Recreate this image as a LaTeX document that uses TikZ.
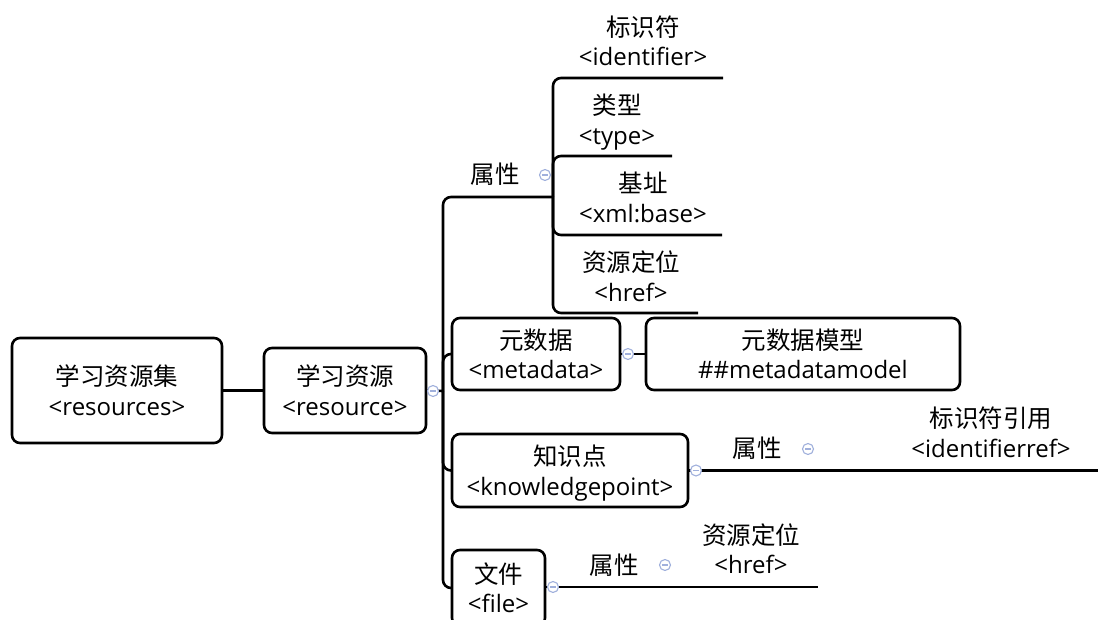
\documentclass[tikz,border=0pt]{standalone}
\usepackage{fontspec}
\setmainfont{Open Sans}
\newfontfamily\cjk{Noto Sans CJK SC}
\definecolor{clp}{RGB}{160,176,220}
\newcommand\zh[1]{{\cjk\fontsize{24.5}{32}\selectfont #1}}
\newcommand\twol[2]{\begin{tabular}{@{}c@{}}\rule{0pt}{27.4pt}\raisebox{-2.5pt}{\zh{#1}}\\#2\end{tabular}}
\begin{document}
\begin{tikzpicture}[x=1pt,y=-1pt,font=\fontsize{24}{32}\selectfont,
  box/.style={draw,line width=2.6pt,rounded corners=8pt,inner sep=0pt},
  lnk/.style={line width=2.6pt,rounded corners=8pt},
  tp/.style={inner sep=0pt},
  clps/.style={circle,draw=clp,fill=white,line width=1.1pt,minimum size=11pt,inner sep=0pt,
    path picture={\draw[clp,line width=1.1pt]
      ([xshift=-3pt]path picture bounding box.center) -- ([xshift=3pt]path picture bounding box.center);}}]
\useasboundingbox (0,0) rectangle (1098,620);

% boxes
\node[box,minimum width=210pt,minimum height=105pt] (r0) at (117,390.5) {\twol{学习资源集}{<resources>}};
\node[box,minimum width=162pt,minimum height=85pt] (r1) at (345,390.5) {\twol{学习资源}{<resource>}};
\node[box,minimum width=168pt,minimum height=72pt] (md) at (536,354) {\twol{元数据}{<metadata>}};
\node[box,minimum width=314pt,minimum height=72pt] (mm) at (803,354) {\twol{元数据模型}{\#\#metadatamodel}};
\node[box,minimum width=236pt,minimum height=73pt] (kp) at (570,470.5) {\twol{知识点}{<knowledgepoint>}};
\node[box,minimum width=93pt,minimum height=76pt] (fl) at (498.5,588) {\twol{文件}{<file>}};

% underline topics
\node[tp] (a1) at (495,174) {\zh{属性}};
\node[tp] (id) at (643,41) {\twol{标识符}{<identifier>}};
\node[tp] (ty) at (617,119.5) {\twol{类型}{<type>}};
\node[tp] (xb) at (643,197.5) {\twol{基址}{<xml:base>}};
\node[tp] (hr) at (631,276.5) {\twol{资源定位}{<href>}};
\node[tp] (ka) at (757,448) {\zh{属性}};
\node[tp] (ir) at (991,432.5) {\twol{标识符引用}{<identifierref>}};
\node[tp] (fa) at (614,565) {\zh{属性}};
\node[tp] (fh) at (751,549) {\twol{资源定位}{<href>}};

\coordinate (sp) at (443,391);
\coordinate (a1R) at (553,197);
\coordinate (idR) at (723,78);
\coordinate (tyR) at (672,156);
\coordinate (xbR) at (722,235);
\coordinate (hrR) at (698,313);
\coordinate (kaR) at (818,470.5);
\coordinate (irR) at (1098,470.5);
\coordinate (faR) at (673,587);
\coordinate (fhR) at (818,587);

% connectors
\draw[lnk] (r0.east) -- (r1.west);
\draw[lnk] (r1.east) -- (sp);
\draw[lnk] (sp) |- (a1R);
\draw[lnk] (sp) |- (md.west);
\draw[lnk] (sp) |- (kp.west);
\draw[lnk] (sp) |- (fl.west);
\draw[lnk] (a1R) |- (idR);
\draw[lnk] (a1R) |- (tyR);
\draw[lnk] (a1R) |- (xbR);
\draw[lnk] (a1R) |- (hrR);
\draw[lnk] (md.east) -- (mm.west);
\draw[lnk] (kp.east) -- (kaR) -- (irR);
\draw[lnk] (fl.east |- faR) -- (faR) -- (fhR);

% collapse markers
\node[clps] (c1) at (433,391) {};
\node[clps] (c2) at (545,175) {};
\node[clps] (c3) at (628,354) {};
\node[clps] (c4) at (696,470.5) {};
\node[clps] (c5) at (808,449) {};
\node[clps] (c6) at (553,587) {};
\node[clps] (c7) at (665,565) {};
\end{tikzpicture}
\end{document}
